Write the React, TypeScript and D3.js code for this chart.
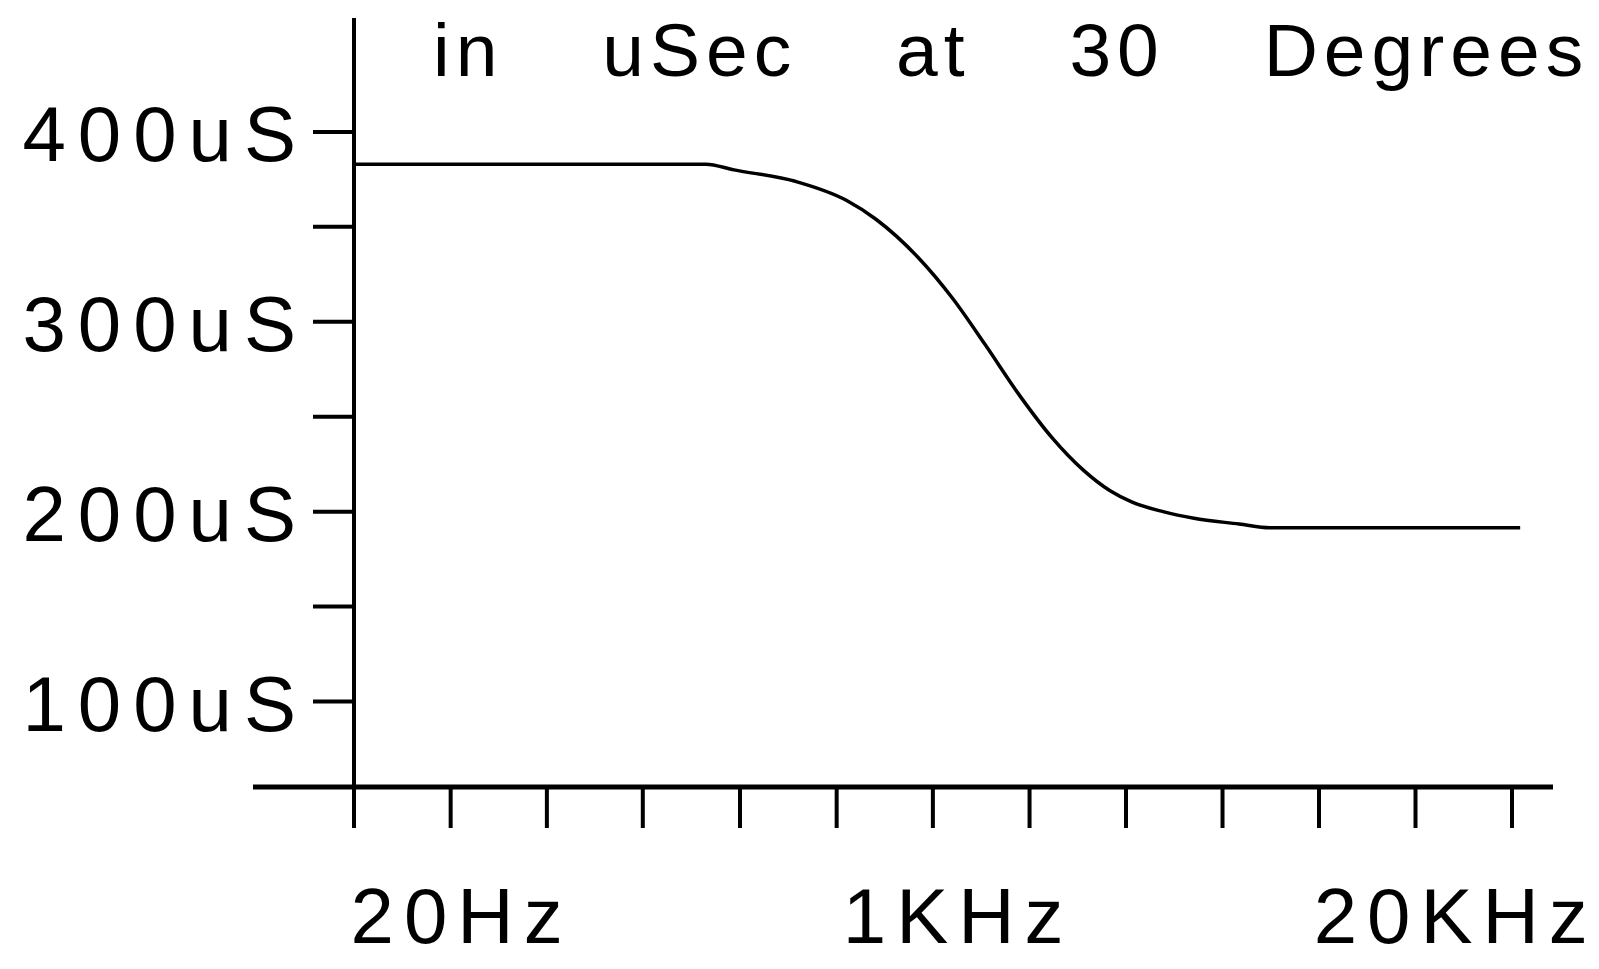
import { useEffect, useRef } from 'react';
import * as d3 from 'd3';

// curve: frequency (Hz) vs delay (uS)
const freqs = [20, 163, 193, 278, 377, 450, 578, 713, 863, 1062, 1286, 1548, 1819, 2075, 2495, 3000, 3925, 4720, 21000];
const delays = [383, 383, 380, 374, 364, 354, 334, 312, 288, 261, 239, 222, 211, 205, 200, 196.5, 193.5, 191.5, 191.5];

// axis ticks
const xTicks = [20, 35.6, 63.2, 112, 200, 356, 632, 1125, 2000, 3557, 6325, 11247, 20000];
const yTicks = [100, 150, 200, 250, 300, 350, 400];
const yLabels = [100, 200, 300, 400];

// x labels and the frequency each one is centred on in the original
const xLabels = ['20Hz', '1KHz', '20KHz'];
const xLabelAt = [38, 735, 14300];

const title = 'in uSec at 30 Degrees';

const DelayChart = () => {
  const svgRef = useRef<SVGSVGElement | null>(null);

  useEffect(() => {
    const width = 1599;
    const height = 969;
    const font = '"Liberation Sans", Arial, sans-serif';

    const svg = d3.select(svgRef.current);
    svg.selectAll('*').remove();
    svg.attr('width', width).attr('height', height);

    svg.append('rect').attr('width', width).attr('height', height).attr('fill', '#fff');

    const x = d3.scaleLog().domain([20, 20000]).range([354, 1512]);
    const y = d3.scaleLinear().domain([55, 460]).range([787, 18]);

    // title (runs off the right edge, as in the original)
    svg.append('text')
      .attr('x', 433)
      .attr('y', 76)
      .style('font-family', font)
      .style('font-size', '75px')
      .style('letter-spacing', '6px')
      .style('word-spacing', '72px')
      .attr('fill', '#000')
      .text(title);

    // y axis
    svg.append('line')
      .attr('x1', x(20)).attr('x2', x(20))
      .attr('y1', y(460)).attr('y2', y(55))
      .attr('stroke', '#000').attr('stroke-width', 4);

    svg.selectAll('.ytick')
      .data(yTicks)
      .enter()
      .append('line')
      .attr('x1', x(20) - 41).attr('x2', x(20))
      .attr('y1', d => y(d)).attr('y2', d => y(d))
      .attr('stroke', '#000').attr('stroke-width', 4);

    svg.selectAll('.ylabel')
      .data(yLabels)
      .enter()
      .append('text')
      .attr('x', 308)
      .attr('y', d => y(d) + 29)
      .attr('text-anchor', 'end')
      .style('font-family', font)
      .style('font-size', '78px')
      .style('letter-spacing', '12px')
      .attr('fill', '#000')
      .text(d => `${d}uS`);

    // x axis
    svg.append('line')
      .attr('x1', 253).attr('x2', 1553)
      .attr('y1', y(55)).attr('y2', y(55))
      .attr('stroke', '#000').attr('stroke-width', 5);

    svg.selectAll('.xtick')
      .data(xTicks)
      .enter()
      .append('line')
      .attr('x1', d => x(d)).attr('x2', d => x(d))
      .attr('y1', y(55)).attr('y2', y(55) + 41)
      .attr('stroke', '#000').attr('stroke-width', 4);

    svg.selectAll('.xlabel')
      .data(xLabels)
      .enter()
      .append('text')
      .attr('x', (_, i) => x(xLabelAt[i]))
      .attr('y', 943)
      .attr('text-anchor', 'middle')
      .style('font-family', font)
      .style('font-size', '78px')
      .style('letter-spacing', '10px')
      .attr('fill', '#000')
      .text(d => d);

    // the delay curve
    const line = d3.line<number>()
      .x((_, i) => x(freqs[i]))
      .y(d => y(d))
      .curve(d3.curveMonotoneX);

    svg.append('path')
      .datum(delays)
      .attr('d', line)
      .attr('fill', 'none')
      .attr('stroke', '#000')
      .attr('stroke-width', 3.5);
  }, []);

  return <svg ref={svgRef} style={{ display: 'block' }}></svg>;
};

export default function App() {
  return (
    <div style={{ position: 'fixed', left: 0, top: 0 }}>
      <DelayChart />
    </div>
  );
}
